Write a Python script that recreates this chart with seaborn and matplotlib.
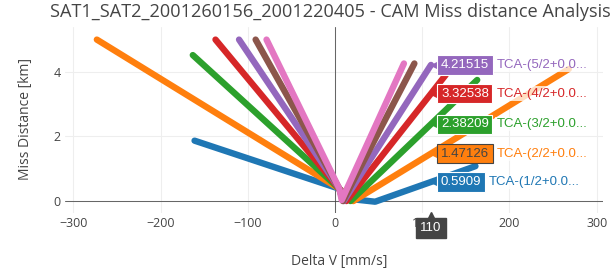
import pandas as pd
import seaborn as sns
import matplotlib.pyplot as plt
from matplotlib.transforms import offset_copy

# series names as they show in the hover labels
names = ["TCA-(1/2+0.0...", "TCA-(2/2+0.0...", "TCA-(3/2+0.0...", "TCA-(4/2+0.0...",
         "TCA-(5/2+0.0...", "TCA-(6/2+0.0...", "TCA-(7/2+0.0..."]
colors = ["#1f77b4", "#ff7f0e", "#2ca02c", "#d62728", "#9467bd", "#8c564b", "#e377c2"]

# delta V [mm/s] / miss distance [km]
dv_blue = [-161, 5, 12, 46, 110, 161]
md_blue = [1.87, 0.38, 0.08, -0.02, 0.5909, 1.08]
dv_orange = [-273, 5, 21, 110, 268]
md_orange = [5.0, 0.38, 0.0, 1.47126, 4.09]
dv_green = [-163, 5, 17.7, 110, 163]
md_green = [4.52, 0.38, 0.0, 2.38209, 3.75]
dv_red = [-137, 5, 13, 110, 127]
md_red = [5.0, 0.38, 0.0, 3.32538, 3.91]
dv_purple = [-110, 5, 10, 110]
md_purple = [5.0, 0.38, 0.0, 4.21515]
dv_brown = [-91, 5, 9, 91]
md_brown = [5.0, 0.38, 0.0, 4.26]
dv_pink = [-78.5, 5, 7.7, 79]
md_pink = [5.0, 0.38, 0.03, 4.26]

hover_x = 110
hover_vals = [0.5909, 1.47126, 2.38209, 3.32538, 4.21515]

all_dv = [dv_blue, dv_orange, dv_green, dv_red, dv_purple, dv_brown, dv_pink]
all_md = [md_blue, md_orange, md_green, md_red, md_purple, md_brown, md_pink]
rows = []
for name, dvs, mds in zip(names, all_dv, all_md):
    for i, (d, m) in enumerate(zip(dvs, mds)):
        rows.append({"series": name, "order": i, "dv": d, "md": m})
df = pd.DataFrame(rows)

sns.set_style("white")
plt.rcParams["font.family"] = ["Open Sans", "DejaVu Sans"]

fig = plt.figure(figsize=(6.15, 2.72), dpi=100)
ax = fig.add_axes([65 / 615, 1 - 213 / 272, 538 / 615, 186 / 272])

sns.lineplot(data=df, x="dv", y="md", hue="series", palette=colors, sort=False,
             estimator=None, linewidth=4.6, legend=False, ax=ax, zorder=3)
for ln in ax.get_lines():
    ln.set_solid_capstyle("round")
    ln.set_solid_joinstyle("round")

ax.set_xlim(-309.5, 307.2)
ax.set_ylim(-0.37, 5.39)
ax.set_xticks([-300, -200, -100, 0, 100, 200, 300])
ax.set_yticks([0, 2, 4])
ax.grid(True, color="#eeeeee", linewidth=0.75, zorder=0)
ax.axhline(0, color="#444444", linewidth=0.75, alpha=0.8, zorder=1)
ax.axvline(0, color="#444444", linewidth=0.75, alpha=0.8, zorder=1)
for s in ax.spines.values():
    s.set_visible(False)
ax.tick_params(length=0, labelsize=9, labelcolor="#444444", pad=3)

ax.set_xlabel("Delta V [mm/s]", fontsize=10, color="#444444", va="center")
ax.set_ylabel("Miss Distance [km]", fontsize=10, color="#444444", va="center")
ax.xaxis.set_label_coords(0.509, -0.263)
ax.yaxis.set_label_coords(-0.0743, 0.503)

fig.text(330 / 615, 1 - 12 / 272, "SAT1_SAT2_2001260156_2001220405 - CAM Miss distance Analysis",
         ha="center", va="center", fontsize=13.1, color="#444444")

# hover labels
hover_font = ["Liberation Sans", "DejaVu Sans"]
tri = offset_copy(ax.transData, fig=fig, x=5, y=0, units="dots")
fig.canvas.draw()
renderer = fig.canvas.get_renderer()
for val, name, col in zip(hover_vals, names, colors):
    light = col == "#ff7f0e"
    txt_col = "#444444" if light else "white"
    edge = "#444444" if light else "white"
    ax.plot([hover_x], [val], marker="<", ms=6.5, color=col, mec=col, transform=tri,
            zorder=6, clip_on=False)
    ann = ax.annotate(f"{val:g}", xy=(hover_x, val), xytext=(10, 0), textcoords="offset pixels",
                      ha="left", va="center", fontsize=9.5, family=hover_font, color=txt_col,
                      bbox=dict(boxstyle="square,pad=0.27", fc=col, ec=edge, lw=0.8), zorder=7)
    fig.canvas.draw()
    bb = ann.get_bbox_patch().get_window_extent(renderer)
    px = ax.transData.transform((hover_x, val))[0]
    ax.annotate(name, xy=(hover_x, val), xytext=(bb.x1 - px + 4, 0), textcoords="offset pixels",
                ha="left", va="center", fontsize=9.5, family=hover_font, color=col,
                bbox=dict(boxstyle="square,pad=0.1", fc="white", ec="none", alpha=0.75), zorder=7)

# x hover label
xtri = offset_copy(ax.transAxes, fig=fig, x=0, y=-3, units="dots")
ax.plot([(hover_x + 309.5) / (309.5 + 307.2)], [0], marker="^", ms=6, color="#444444",
        transform=xtri, clip_on=False, zorder=7)
ax.annotate(str(hover_x), xy=(hover_x, 0), xycoords=("data", "axes fraction"), xytext=(0, -15),
            textcoords="offset pixels", ha="center", va="center", fontsize=9.5, family=hover_font,
            color="white", bbox=dict(boxstyle="square,pad=0.3", fc="#444444", ec="#444444"),
            annotation_clip=False, zorder=7)

fig.savefig("out.png", dpi=100)
